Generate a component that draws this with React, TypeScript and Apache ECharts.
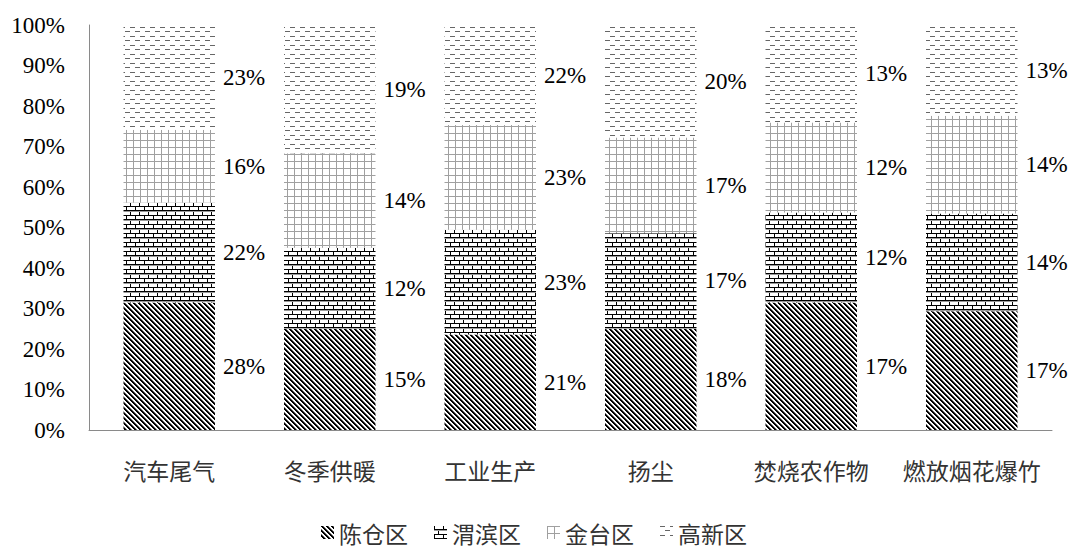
import React, { useEffect, useRef } from "react";
import * as echarts from "echarts";

// ---- data ----
const categories = ["汽车尾气", "冬季供暖", "工业生产", "扬尘", "焚烧农作物", "燃放烟花爆竹"];
const seriesNames = ["陈仓区", "渭滨区", "金台区", "高新区"];
const chencang = [28, 15, 21, 18, 17, 17];
const weibin = [22, 12, 23, 17, 12, 14];
const jintai = [16, 14, 23, 17, 12, 14];
const gaoxin = [23, 19, 22, 20, 13, 13];
const yMin = 0;
const yMax = 100;
const yStep = 10;

const rawSeries = [chencang, weibin, jintai, gaoxin];

function tile(w: number, h: number, paint: (ctx: CanvasRenderingContext2D) => void) {
  const c = document.createElement("canvas");
  c.width = w;
  c.height = h;
  const ctx = c.getContext("2d") as CanvasRenderingContext2D;
  ctx.fillStyle = "#ffffff";
  ctx.fillRect(0, 0, w, h);
  paint(ctx);
  return { image: c, repeat: "repeat", imageWidth: w, imageHeight: h };
}

function makePatterns() {
  const diag = tile(5, 5, (ctx) => {
    for (let y = 0; y < 5; y++) {
      for (let x = 0; x < 5; x++) {
        const m = (x - y + 10) % 5;
        if (m < 2) {
          ctx.fillStyle = "#000000";
          ctx.fillRect(x, y, 1, 1);
        } else if (m === 2) {
          ctx.fillStyle = "#6e6e6e";
          ctx.fillRect(x, y, 1, 1);
        }
      }
    }
  });
  const brick = tile(9, 9, (ctx) => {
    ctx.fillStyle = "#000000";
    ctx.fillRect(0, 3, 9, 1);
    ctx.fillRect(0, 8, 9, 1);
    ctx.fillRect(0, 0, 1, 3);
    ctx.fillRect(4, 4, 1, 4);
    ctx.fillStyle = "#9a9a9a";
    ctx.fillRect(0, 4, 9, 1);
  });
  const grid = tile(7, 7, (ctx) => {
    ctx.fillStyle = "#a0a0a0";
    ctx.fillRect(0, 0, 7, 1);
    ctx.fillRect(0, 0, 1, 7);
  });
  const dash = tile(10, 9, (ctx) => {
    ctx.fillStyle = "#666666";
    ctx.fillRect(0, 0, 5, 1);
    ctx.fillRect(5, 4, 5, 1);
  });
  return [diag, brick, grid, dash];
}

const NUM_FONT = "Liberation Serif";
const CJK_FONT = "Noto Sans CJK SC";

export default function App() {
  const ref = useRef<HTMLDivElement | null>(null);

  useEffect(() => {
    if (!ref.current) return;
    const chart = echarts.init(ref.current, null, { renderer: "svg" });
    const patterns = makePatterns();
    const totals = categories.map((_, i) => rawSeries.reduce((s, arr) => s + arr[i], 0));

    const series = seriesNames.map((name, si) => ({
      name,
      type: "bar",
      stack: "total",
      barCategoryGap: "43%",
      data: rawSeries[si].map((v, i) => (v / totals[i]) * 100),
      itemStyle: { color: patterns[si] as any, borderWidth: 0 },
      label: {
        show: true,
        position: "right",
        distance: 8,
        fontFamily: NUM_FONT,
        fontSize: 23,
        color: "#000",
        formatter: (p: any) => `${rawSeries[si][p.dataIndex]}%`,
      },
      emphasis: { disabled: true },
    }));

    chart.setOption({
      animation: false,
      backgroundColor: "#ffffff",
      textStyle: { fontFamily: NUM_FONT },
      grid: { left: 89, right: 16, top: 25, bottom: 120, containLabel: false },
      legend: {
        data: seriesNames,
        left: "center",
        top: 521,
        padding: 0,
        icon: "rect",
        itemWidth: 13,
        itemHeight: 13,
        itemGap: 26,
        textStyle: { fontFamily: CJK_FONT, fontSize: 23, color: "#333", lineHeight: 22 },
      },
      xAxis: {
        type: "category",
        data: categories,
        axisLine: { show: true, lineStyle: { color: "#8a8a8a", width: 1 } },
        axisTick: { show: false },
        axisLabel: {
          margin: 28,
          fontFamily: CJK_FONT,
          fontSize: 23,
          color: "#333",
          interval: 0,
        },
      },
      yAxis: {
        type: "value",
        min: yMin,
        max: yMax,
        interval: yStep,
        axisLine: { show: true, lineStyle: { color: "#8a8a8a", width: 1 } },
        axisTick: { show: false },
        splitLine: { show: false },
        axisLabel: {
          margin: 24,
          fontFamily: NUM_FONT,
          fontSize: 23,
          color: "#000",
          formatter: "{value}%",
        },
      },
      series,
    });

    return () => chart.dispose();
  }, []);

  return (
    <div
      ref={ref}
      style={{ position: "fixed", left: 0, top: 0, width: 1068, height: 550, background: "#fff" }}
    />
  );
}
